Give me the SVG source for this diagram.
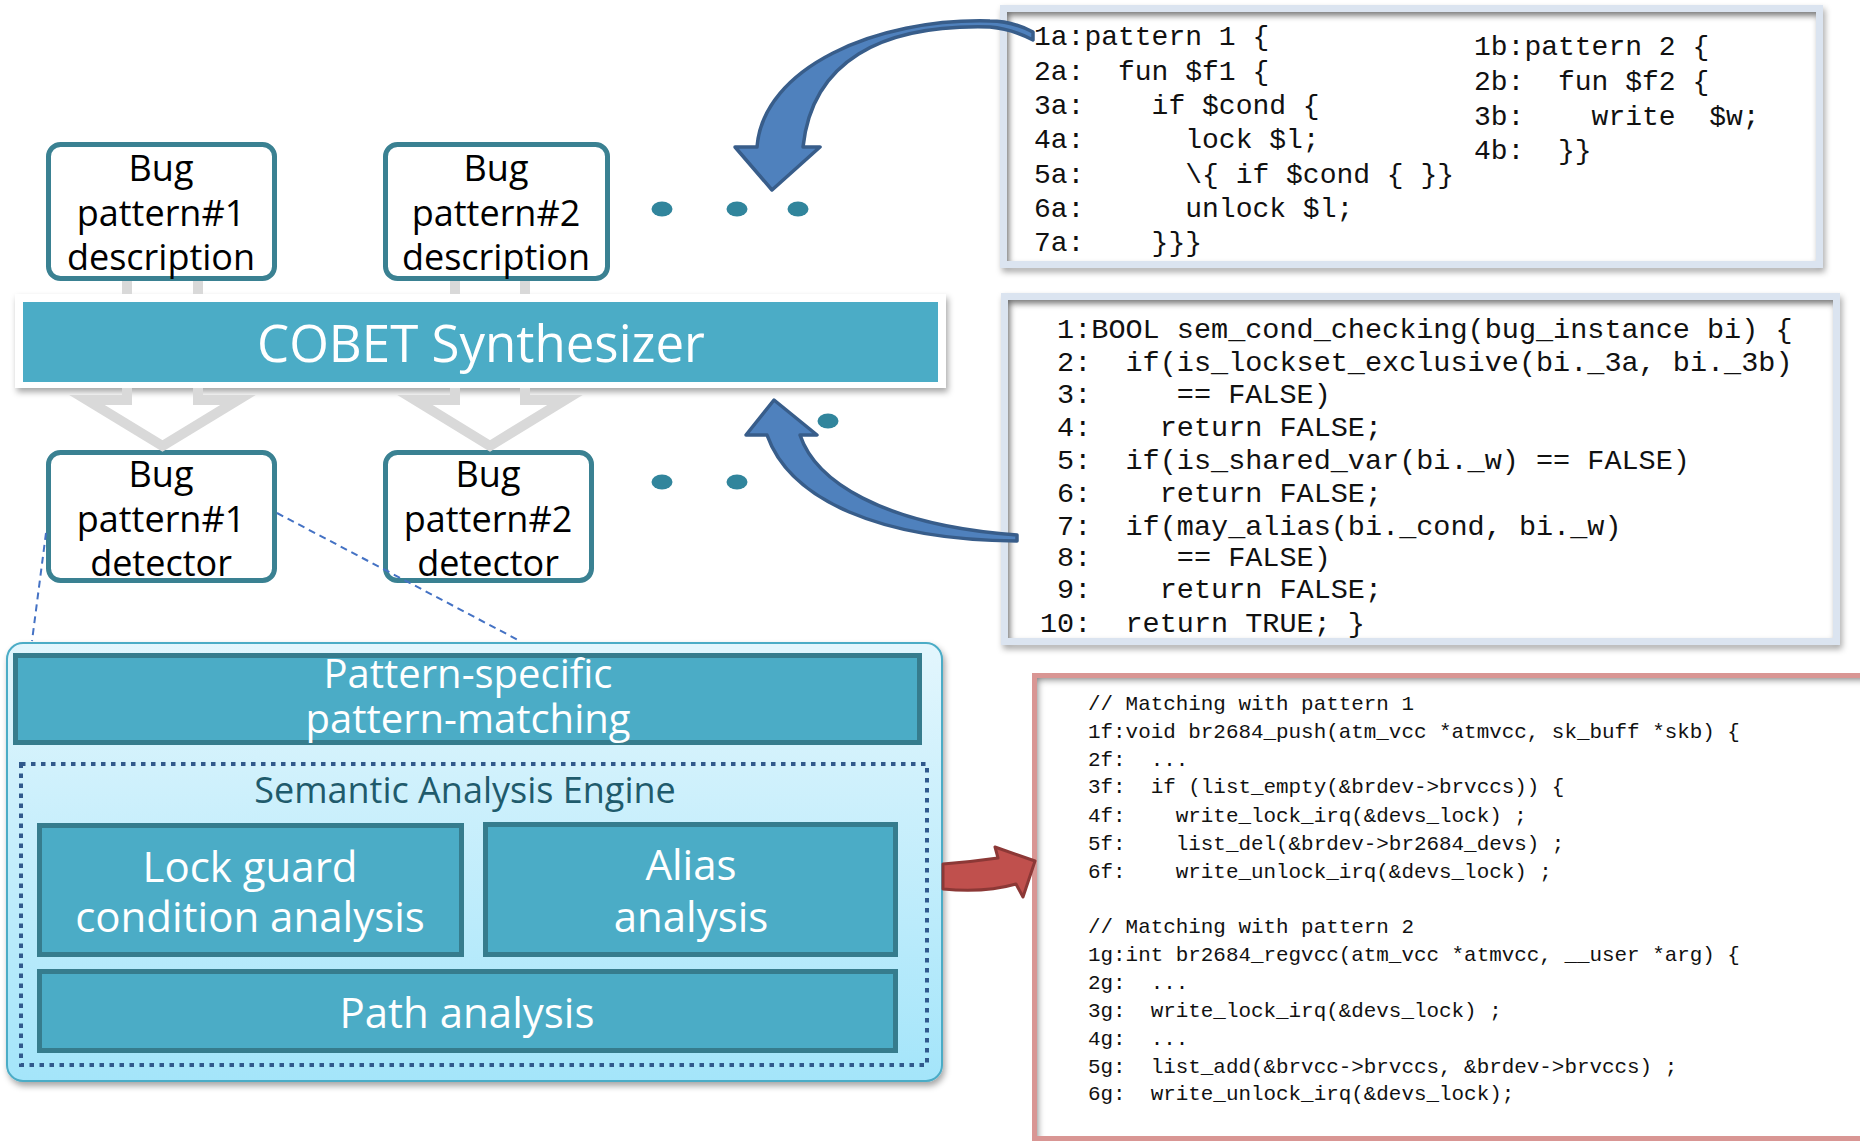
<svg xmlns="http://www.w3.org/2000/svg" width="1860" height="1142" viewBox="0 0 1860 1142">
<defs>
<style>
.lbl{font-family:"Open Sans","Noto Sans","DejaVu Sans",sans-serif;text-anchor:middle}
.box{fill:#fff;stroke:#3a8192;stroke-width:5}
.dk{fill:#000;font-size:36px}
.bar{fill:#4bacc6;stroke:#367c8d;stroke-width:5}
.wt{fill:#fff}
.dot{fill:#31859c}
.code{font-family:"Liberation Mono","Courier New",monospace;fill:#111}
.frame{fill:none;stroke:#dbe4f0;stroke-width:7}
.gray{fill:none;stroke:#d9d9d9;stroke-width:10;stroke-linejoin:miter}
.dash{fill:none;stroke:#4472c4;stroke-width:2;stroke-dasharray:7 5}
.blue{fill:#4f81bd;stroke:#385d8a;stroke-width:3.5;stroke-linejoin:round}
.red{fill:#c0504d;stroke:#8c3836;stroke-width:3;stroke-linejoin:round}
</style>
<linearGradient id="cont" x1="0" y1="0" x2="0" y2="1">
<stop offset="0" stop-color="#e3f6fd"/>
<stop offset="1" stop-color="#a4e5fa"/>
</linearGradient>
<filter id="drop" x="-5%" y="-10%" width="110%" height="130%">
<feDropShadow dx="2" dy="4" stdDeviation="3" flood-color="#000" flood-opacity="0.35"/>
</filter>
<filter id="inset" x="-5%" y="-5%" width="110%" height="110%">
<feFlood flood-color="#808080"/>
<feComposite in2="SourceAlpha" operator="out"/>
<feGaussianBlur stdDeviation="3"/>
<feOffset dx="4" dy="5"/>
<feComposite in2="SourceAlpha" operator="in" result="sh"/>
<feMerge><feMergeNode in="SourceGraphic"/><feMergeNode in="sh"/></feMerge>
</filter>
</defs>

<rect width="1860" height="1142" fill="#fff"/>

<!-- bug pattern descriptions -->
<g id="desc1">
<rect class="box" x="48.5" y="144.5" width="226" height="134" rx="12"/>
<text class="lbl dk" x="161" y="181">Bug</text>
<text class="lbl dk" x="161" y="226">pattern#1</text>
<text class="lbl dk" x="161" y="270">description</text>
</g>
<g id="desc2">
<rect class="box" x="385.5" y="144.5" width="222" height="134" rx="12"/>
<text class="lbl dk" x="496" y="181">Bug</text>
<text class="lbl dk" x="496" y="226">pattern#2</text>
<text class="lbl dk" x="496" y="270">description</text>
</g>

<!-- synthesizer bar -->
<g id="synth">
<rect x="15" y="294" width="931" height="94" fill="#fff" filter="url(#drop)"/>
<rect x="23" y="302" width="915" height="80" fill="#4bacc6"/>
<text class="lbl wt" x="481" y="362" font-size="51">COBET Synthesizer</text>
</g>

<!-- generated detectors -->
<g id="det1">
<rect class="box" x="48.5" y="452.5" width="226" height="128" rx="12"/>
<text class="lbl dk" x="161" y="487">Bug</text>
<text class="lbl dk" x="161" y="532">pattern#1</text>
<text class="lbl dk" x="161" y="576">detector</text>
</g>
<g id="det2">
<rect class="box" x="385.5" y="452.5" width="206" height="128" rx="12"/>
<text class="lbl dk" x="488" y="487">Bug</text>
<text class="lbl dk" x="488" y="532">pattern#2</text>
<text class="lbl dk" x="488" y="576">detector</text>
</g>

<!-- ellipsis dots -->
<g id="dots">
<ellipse class="dot" cx="662" cy="209" rx="10.5" ry="7.5"/>
<ellipse class="dot" cx="737" cy="209" rx="10.5" ry="7.5"/>
<ellipse class="dot" cx="798" cy="209" rx="10.5" ry="7.5"/>
<ellipse class="dot" cx="662" cy="482" rx="10.5" ry="7.5"/>
<ellipse class="dot" cx="737" cy="482" rx="10.5" ry="7.5"/>
<ellipse class="dot" cx="828" cy="421" rx="10.5" ry="7.5"/>
</g>

<!-- detector internals -->
<g id="detector-detail">
<rect x="7" y="643" width="935" height="438" rx="16" fill="url(#cont)" stroke="#4bacc6" stroke-width="2" filter="url(#drop)"/>
<g id="pm">
<rect class="bar" x="15.5" y="655.5" width="904" height="87"/>
<text class="lbl wt" x="468" y="688" font-size="40">Pattern-specific</text>
<text class="lbl wt" x="468" y="733" font-size="40">pattern-matching</text>
</g>
<g id="engine">
<rect x="21" y="764" width="906" height="301" fill="none" stroke="#31598c" stroke-width="4" stroke-dasharray="4.5 5.5"/>
<text class="lbl" x="465" y="803" font-size="36" fill="#1f5b6c">Semantic Analysis Engine</text>
</g>
<g id="lockguard">
<rect class="bar" x="39.5" y="825.5" width="422" height="129"/>
<text class="lbl wt" x="250" y="882" font-size="42">Lock guard</text>
<text class="lbl wt" x="250" y="932" font-size="42">condition analysis</text>
</g>
<g id="alias">
<rect class="bar" x="485.5" y="824.5" width="410" height="130"/>
<text class="lbl wt" x="691" y="880" font-size="42">Alias</text>
<text class="lbl wt" x="691" y="932" font-size="42">analysis</text>
</g>
<g id="path">
<rect class="bar" x="39.5" y="971.5" width="856" height="79"/>
<text class="lbl wt" x="467" y="1028" font-size="42">Path analysis</text>
</g>
</g>

<!-- pattern listing -->
<g id="pattern-code">
<rect x="1003.5" y="8.5" width="816" height="256" fill="#fff" filter="url(#inset)"/>
<rect class="frame" x="1003.5" y="8.5" width="816" height="256" filter="url(#drop)"/>
<g class="code" font-size="28">
<text x="1034" y="45">1a:pattern 1 {</text>
<text x="1034" y="80">2a:&#160;&#160;fun $f1 {</text>
<text x="1034" y="114">3a:&#160;&#160;&#160;&#160;if $cond {</text>
<text x="1034" y="148">4a:&#160;&#160;&#160;&#160;&#160;&#160;lock $l;</text>
<text x="1034" y="183">5a:&#160;&#160;&#160;&#160;&#160;&#160;\{ if $cond { }}</text>
<text x="1034" y="217">6a:&#160;&#160;&#160;&#160;&#160;&#160;unlock $l;</text>
<text x="1034" y="251">7a:&#160;&#160;&#160;&#160;}}}</text>
<text x="1474" y="55">1b:pattern 2 {</text>
<text x="1474" y="90">2b:&#160;&#160;fun $f2 {</text>
<text x="1474" y="125">3b:&#160;&#160;&#160;&#160;write&#160;&#160;$w;</text>
<text x="1474" y="159">4b:&#160;&#160;}}</text>
</g>
</g>

<!-- semantic condition checker -->
<g id="checker-code">
<rect x="1004.5" y="296.5" width="832" height="345" fill="#fff" filter="url(#inset)"/>
<rect class="frame" x="1004.5" y="296.5" width="832" height="345" filter="url(#drop)"/>
<g class="code" font-size="28.5">
<text x="1040" y="338">&#160;1:BOOL sem_cond_checking(bug_instance bi) {</text>
<text x="1040" y="371">&#160;2:&#160;&#160;if(is_lockset_exclusive(bi._3a, bi._3b)</text>
<text x="1040" y="403">&#160;3:&#160;&#160;&#160;&#160;&#160;== FALSE)</text>
<text x="1040" y="436">&#160;4:&#160;&#160;&#160;&#160;return FALSE;</text>
<text x="1040" y="469">&#160;5:&#160;&#160;if(is_shared_var(bi._w) == FALSE)</text>
<text x="1040" y="502">&#160;6:&#160;&#160;&#160;&#160;return FALSE;</text>
<text x="1040" y="535">&#160;7:&#160;&#160;if(may_alias(bi._cond, bi._w)</text>
<text x="1040" y="566">&#160;8:&#160;&#160;&#160;&#160;&#160;== FALSE)</text>
<text x="1040" y="598">&#160;9:&#160;&#160;&#160;&#160;return FALSE;</text>
<text x="1040" y="632">10:&#160;&#160;return TRUE; }</text>
</g>
</g>

<!-- matched kernel code -->
<g id="match-code">
<rect x="1034.5" y="675.5" width="900" height="463" fill="#fff" filter="url(#inset)"/>
<rect x="1034.5" y="675.5" width="900" height="463" fill="none" stroke="#d99694" stroke-width="5"/>
<g class="code" font-size="20.9">
<text x="1088" y="710">// Matching with pattern 1</text>
<text x="1088" y="738">1f:void br2684_push(atm_vcc *atmvcc, sk_buff *skb) {</text>
<text x="1088" y="766">2f:&#160;&#160;...</text>
<text x="1088" y="793">3f:&#160;&#160;if (list_empty(&amp;brdev-&gt;brvccs)) {</text>
<text x="1088" y="822">4f:&#160;&#160;&#160;&#160;write_lock_irq(&amp;devs_lock) ;</text>
<text x="1088" y="850">5f:&#160;&#160;&#160;&#160;list_del(&amp;brdev-&gt;br2684_devs) ;</text>
<text x="1088" y="878">6f:&#160;&#160;&#160;&#160;write_unlock_irq(&amp;devs_lock) ;</text>
<text x="1088" y="933">// Matching with pattern 2</text>
<text x="1088" y="961">1g:int br2684_regvcc(atm_vcc *atmvcc, __user *arg) {</text>
<text x="1088" y="989">2g:&#160;&#160;...</text>
<text x="1088" y="1017">3g:&#160;&#160;write_lock_irq(&amp;devs_lock) ;</text>
<text x="1088" y="1045">4g:&#160;&#160;...</text>
<text x="1088" y="1073">5g:&#160;&#160;list_add(&amp;brvcc-&gt;brvccs, &amp;brdev-&gt;brvccs) ;</text>
<text x="1088" y="1100">6g:&#160;&#160;write_unlock_irq(&amp;devs_lock);</text>
</g>
</g>

<!-- connectors -->
<g id="connectors">
<path class="gray" d="M127,281 V294 M198,281 V294 M127,388 V400 H87 L162.5,446 L238,400 H198 V388"/>
<path class="gray" d="M455,281 V294 M525,281 V294 M455,388 V400 H415 L490,446 L565,400 H525 V388"/>
<path class="dash" d="M46,533 L32,641"/>
<path class="dash" d="M277,513 L520,641"/>
<path class="blue" d="M1033,32 Q1012,21 990,21 C875,18 763,68 757,147 L735,147 L772,190 L820,147 L803,147 C812,62 880,24 990,27 Q1012,29 1033,40 Z"/>
<path class="blue" d="M1017,541 C880,540 790,500 767,435 L746,435 L774,400 L817,435 L800,435 C815,480 880,525 1017,535 Z"/>
<path class="red" d="M943,864 Q970,862 998,858 L995,847 L1035,861 L1023,897 L1016,884 Q985,893 943,889 Z"/>
</g>
</svg>
